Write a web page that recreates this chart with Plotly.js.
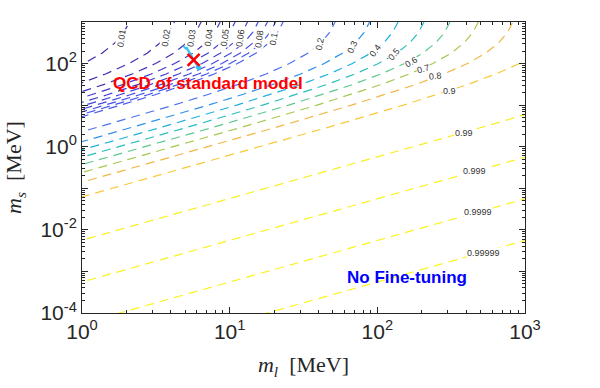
<!DOCTYPE html>
<html>
<head>
<meta charset="utf-8">
<script src="https://cdn.plot.ly/plotly-3.0.1.min.js"></script>
<style>
  body { margin: 0; background: #fff; }
  #plot { width: 600px; height: 388px; }
</style>
</head>
<body>
<div id="plot"></div>
<script>
// contour levels
var levels = [0.01, 0.02, 0.03, 0.04, 0.05, 0.06, 0.07, 0.08, 0.09, 0.1,
              0.2, 0.3, 0.4, 0.5, 0.6, 0.7, 0.8, 0.9,
              0.99, 0.999, 0.9999, 0.99999];

// points along each contour, log10(ms) and log10(ml) in MeV
var lineLogMs = [
  [1.5, 1.75, 2, 2.25, 2.5, 2.75, 3],
  [1.25, 1.5, 1.75, 2, 2.25, 2.5, 2.75, 3],
  [1, 1.25, 1.5, 1.75, 2, 2.25, 2.5, 2.75, 3],
  [1, 1.25, 1.5, 1.75, 2, 2.25, 2.5, 2.75, 3],
  [0.5, 1, 1.25, 1.5, 1.75, 2, 2.25, 2.5, 2.75, 3],
  [0.5, 1, 1.25, 1.5, 1.75, 2, 2.25, 2.5, 2.75, 3],
  [0.5, 1, 1.25, 1.5, 1.75, 2, 2.25, 2.5, 2.75, 3],
  [0.5, 1, 1.25, 1.5, 1.75, 2, 2.25, 2.5, 2.75, 3],
  [0.5, 1, 1.25, 1.5, 1.75, 2, 2.25, 2.5, 2.75, 3],
  [0.5, 1, 1.25, 1.5, 1.75, 2, 2.25, 2.5, 2.75, 3],
  [0, 0.5, 1, 1.25, 1.5, 1.75, 2, 2.25, 2.5, 2.75, 3],
  [0, 0.5, 1, 1.25, 1.5, 1.75, 2, 2.25, 2.5, 2.75, 3],
  [-1, 0, 0.5, 1, 1.25, 1.5, 1.75, 2, 2.25, 2.5, 2.75, 3],
  [-1, 0, 0.5, 1, 1.25, 1.5, 1.75, 2, 2.25, 2.5, 2.75, 3],
  [-1, 0, 0.5, 1, 1.25, 1.5, 1.75, 2, 2.25, 2.5, 2.75, 3],
  [-1, 0, 0.5, 1, 1.25, 1.5, 1.75, 2, 2.25, 2.5, 2.75, 3],
  [-1.5, -1, 0, 0.5, 1, 1.25, 1.5, 1.75, 2, 2.25, 2.5, 2.75, 3],
  [-2, -1, 0, 0.5, 1, 1.25, 1.5, 1.75, 2, 2.25],
  [-3, -2, -1, 0, 0.5, 1],
  [-4, -3, -2, -1, 0],
  [-5, -4, -3, -2, -1],
  [-6, -5, -4, -3, -2]
];
var lineLogMl = [
  [-0.335, -0.146, 0.012, 0.135, 0.224, 0.283, 0.321],
  [-0.241, -0.029, 0.159, 0.317, 0.441, 0.530, 0.589, 0.626],
  [-0.287, -0.060, 0.151, 0.340, 0.498, 0.621, 0.710, 0.769, 0.807],
  [-0.157, 0.069, 0.281, 0.469, 0.627, 0.751, 0.840, 0.899, 0.936],
  [-0.534, -0.056, 0.171, 0.382, 0.570, 0.729, 0.852, 0.941, 1.000, 1.037],
  [-0.450, 0.028, 0.255, 0.466, 0.654, 0.813, 0.936, 1.025, 1.084, 1.121],
  [-0.379, 0.100, 0.326, 0.537, 0.726, 0.884, 1.007, 1.096, 1.156, 1.193],
  [-0.316, 0.162, 0.389, 0.600, 0.789, 0.947, 1.070, 1.159, 1.218, 1.256],
  [-0.260, 0.218, 0.445, 0.656, 0.844, 1.003, 1.126, 1.215, 1.274, 1.311],
  [-0.209, 0.269, 0.495, 0.707, 0.895, 1.053, 1.177, 1.266, 1.325, 1.362],
  [-0.350, 0.143, 0.621, 0.848, 1.059, 1.247, 1.405, 1.529, 1.618, 1.677, 1.714],
  [-0.116, 0.377, 0.855, 1.082, 1.293, 1.481, 1.640, 1.763, 1.852, 1.911, 1.948],
  [-0.921, 0.076, 0.569, 1.047, 1.274, 1.485, 1.673, 1.831, 1.955, 2.044, 2.103, 2.140],
  [-0.745, 0.252, 0.745, 1.223, 1.450, 1.661, 1.849, 2.008, 2.131, 2.220, 2.279, 2.316],
  [-0.569, 0.428, 0.921, 1.399, 1.626, 1.837, 2.025, 2.184, 2.307, 2.396, 2.455, 2.492],
  [-0.377, 0.620, 1.113, 1.591, 1.818, 2.029, 2.217, 2.376, 2.499, 2.588, 2.647, 2.684],
  [-0.643, -0.143, 0.854, 1.347, 1.825, 2.052, 2.263, 2.451, 2.610, 2.733, 2.822, 2.881, 2.918],
  [-0.790, 0.209, 1.206, 1.699, 2.177, 2.404, 2.615, 2.803, 2.962, 3.085],
  [-0.749, 0.251, 1.251, 2.248, 2.741, 3.219],
  [-0.745, 0.255, 1.255, 2.255, 3.252],
  [-0.745, 0.255, 1.255, 2.255, 3.255],
  [-0.745, 0.255, 1.255, 2.255, 3.255]
];

// contour labels shown in the figure: text and log10 position (ml, ms)
var labelText = ['0.01', '0.02', '0.03', '0.04', '0.05', '0.06', '0.08', '0.1',
                 '0.2', '0.3', '0.4', '0.5', '0.6', '0.7', '0.8', '0.9',
                 '0.99', '0.999', '0.9999', '0.99999'];
var labelLogMl = [0.27, 0.568, 0.743, 0.861, 0.966, 1.074, 1.199, 1.30,
                  1.612, 1.831, 1.99, 2.115, 2.23, 2.31, 2.397, 2.486,
                  2.588, 2.659, 2.682, 2.716];
var labelLogMs = [2.607, 2.62, 2.607, 2.63, 2.62, 2.607, 2.595, 2.607,
                  2.463, 2.398, 2.318, 2.222, 2.036, 1.86, 1.69, 1.337,
                  0.318, -0.58, -1.578, -2.55];

// standard model point and its band
var smMl = [5.7];
var smMs = [122];
var bandMl = [5.05, 6.15];
var bandMs = [255, 80];

// styles
var lineColors = ['#3d26a8', '#3f2cb5', '#4132bf', '#4238c8', '#433ed0', '#4444d8',
                  '#454adf', '#4650e5', '#4656ea', '#465cee',
                  '#4f72f2', '#2f90e8', '#1eb0dc', '#28bdbb', '#5cc88c', '#a5c84e',
                  '#f2b646', '#f9c93a', '#f8ef22', '#f9f21e', '#faf41c', '#fbf51b'];
var labelAngle = [-82, -82, -82, -82, -82, -82, -82, -80,
                  -78, -65, -55, -50, -30, -15, -6, 0,
                  0, 0, 0, 0];

var data = [];
for (var i = 0; i < levels.length; i++) {
  data.push({
    x: lineLogMl[i].map(function (v) { return Math.pow(10, v); }),
    y: lineLogMs[i].map(function (v) { return Math.pow(10, v); }),
    type: 'scatter',
    mode: 'lines',
    name: String(levels[i]),
    line: {color: lineColors[i], width: 1.2, dash: '9px,6px'},
    hoverinfo: 'skip'
  });
}
data.push({
  x: bandMl, y: bandMs, type: 'scatter', mode: 'lines+markers',
  line: {color: '#2ec4f5', width: 2.2},
  marker: {color: '#2ec4f5', size: 5, symbol: 'diamond'},
  hoverinfo: 'skip'
});
data.push({
  x: smMl, y: smMs, type: 'scatter', mode: 'markers',
  marker: {symbol: 'x-thin', size: 12, line: {color: '#ff0000', width: 2.5}},
  hoverinfo: 'skip'
});

var annotations = [];
for (var j = 0; j < labelText.length; j++) {
  annotations.push({
    x: labelLogMl[j], y: labelLogMs[j], xref: 'x', yref: 'y',
    text: labelText[j], showarrow: false, textangle: labelAngle[j],
    font: {family: 'Liberation Sans, Arial', size: 9, color: '#333'},
    bgcolor: '#ffffff', borderpad: 0
  });
}
annotations.push({
  x: 0.851, y: 1.523, xref: 'x', yref: 'y', showarrow: false,
  text: '<b>QCD of standard model</b>',
  font: {family: 'Liberation Sans, Arial', size: 17, color: '#ff0000'}
});
annotations.push({
  x: 2.203, y: -3.145, xref: 'x', yref: 'y', showarrow: false,
  text: '<b>No Fine-tuning</b>',
  font: {family: 'Liberation Sans, Arial', size: 17, color: '#0000ff'}
});

// minor tick positions 2..9 in each decade
function minorTicks(lo, hi) {
  var t = [];
  for (var d = lo; d < hi; d++) {
    for (var k = 2; k <= 9; k++) t.push(k * Math.pow(10, d));
  }
  return t;
}

var axisCommon = {
  type: 'log',
  showline: true,
  mirror: 'ticks',
  linecolor: '#262626',
  linewidth: 1,
  showgrid: false,
  zeroline: false,
  ticks: 'inside',
  ticklen: 6,
  tickcolor: '#262626',
  tickfont: {family: 'Liberation Sans, Arial', size: 21, color: '#262626'}
};

var layout = {
  width: 600,
  height: 388,
  margin: {l: 82, r: 75, t: 22, b: 75},
  paper_bgcolor: '#ffffff',
  plot_bgcolor: '#ffffff',
  showlegend: false,
  xaxis: Object.assign({}, axisCommon, {
    range: [0, 3],
    tickvals: [1, 10, 100, 1000],
    ticktext: ['10<sup>0</sup>', '10<sup>1</sup>', '10<sup>2</sup>', '10<sup>3</sup>'],
    minor: {tickvals: minorTicks(0, 3), ticks: 'inside', ticklen: 3, tickcolor: '#262626', showgrid: false},
    title: {text: '<i>m</i><sub><i>l</i></sub>  [MeV]',
            font: {family: 'Liberation Serif, Times New Roman', size: 22, color: '#262626'},
            standoff: 14}
  }),
  yaxis: Object.assign({}, axisCommon, {
    range: [-4, 3],
    tickvals: [1e-4, 1e-3, 1e-2, 1e-1, 1, 10, 100, 1000],
    ticktext: ['10<sup>-4</sup>', '', '10<sup>-2</sup>', '', '10<sup>0</sup>', '', '10<sup>2</sup>', ''],
    minor: {tickvals: minorTicks(-4, 3), ticks: 'inside', ticklen: 3, tickcolor: '#262626', showgrid: false},
    title: {text: '<i>m</i><sub><i>s</i></sub>  [MeV]',
            font: {family: 'Liberation Serif, Times New Roman', size: 22, color: '#262626'},
            standoff: 12}
  }),
  annotations: annotations
};

Plotly.newPlot('plot', data, layout, {displayModeBar: false, staticPlot: true});
</script>
</body>
</html>
